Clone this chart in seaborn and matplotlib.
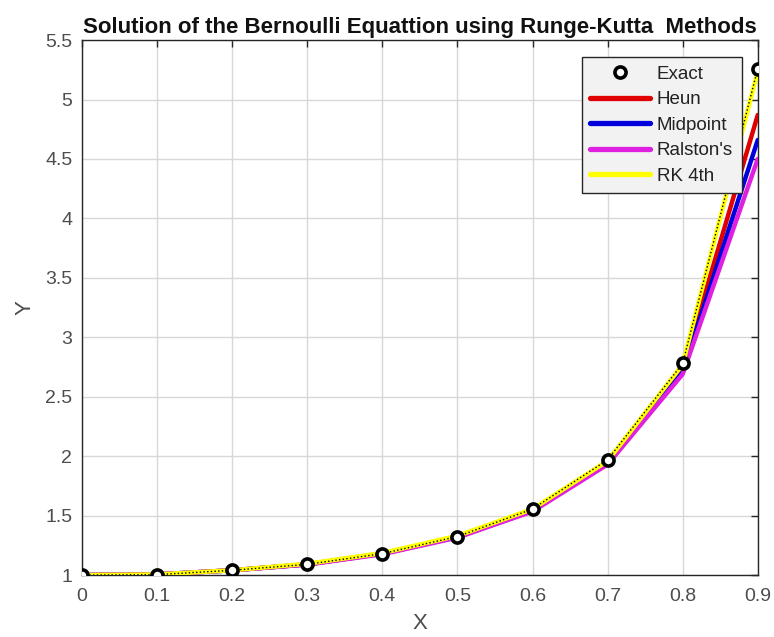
import numpy as np
import pandas as pd
import matplotlib
matplotlib.use("Agg")
import matplotlib.pyplot as plt
import matplotlib.ticker as mticker
import seaborn as sns

x = [0.0, 0.1, 0.2, 0.3, 0.4, 0.5, 0.6, 0.7, 0.8, 0.9]
exact = [1.0, 1.003, 1.04, 1.09, 1.18, 1.324, 1.555, 1.97, 2.78, 5.26]
heun = [1.0, 1.005, 1.04, 1.09, 1.18, 1.32, 1.54, 1.95, 2.73, 4.87]
midpoint = [1.0, 1.005, 1.04, 1.09, 1.18, 1.32, 1.54, 1.94, 2.71, 4.66]
ralston = [1.0, 1.005, 1.04, 1.088, 1.175, 1.315, 1.535, 1.93, 2.69, 4.50]
rk4 = [1.0, 1.005, 1.04, 1.095, 1.185, 1.33, 1.555, 1.96, 2.77, 5.24]

title = "Solution of the Bernoulli Equattion using Runge-Kutta  Methods"
xticks = [0, 0.1, 0.2, 0.3, 0.4, 0.5, 0.6, 0.7, 0.8, 0.9]
yticks = [1, 1.5, 2, 2.5, 3, 3.5, 4, 4.5, 5, 5.5]

sns.set_style("white")
plt.rcParams['font.family'] = ['Liberation Sans', 'DejaVu Sans']

fig = plt.figure(figsize=(7.74, 6.37), dpi=100)
ax = fig.add_axes([0.106, 0.0973, 0.873, 0.8397])

methods = [("Heun", heun, "#e00000"), ("Midpoint", midpoint, "#0000dd"),
           ("Ralston's", ralston, "#e020e0"), ("RK 4th", rk4, "#ffff00")]

df_e = pd.DataFrame({"x": x, "y": exact})
sns.lineplot(data=df_e, x="x", y="y", ax=ax, color="black", linestyle=":",
             linewidth=1.0, marker="o", markersize=8, markerfacecolor="white",
             markeredgecolor="black", markeredgewidth=2.6, label="Exact", zorder=5)
for name, vals, col in methods:
    d = pd.DataFrame({"x": x, "y": vals})
    sns.lineplot(data=d, x="x", y="y", ax=ax, color=col, linewidth=3.2,
                 label=name, zorder=3)

ax.set_xlim(0, 0.9)
ax.set_ylim(1, 5.5)
ax.set_xticks(xticks)
ax.set_yticks(yticks)
ax.xaxis.set_major_formatter(mticker.FormatStrFormatter('%g'))
ax.yaxis.set_major_formatter(mticker.FormatStrFormatter('%g'))
ax.grid(True, color="#d8d8d8", linewidth=1.0)
ax.set_axisbelow(True)
for s in ax.spines.values():
    s.set_color("#262626")
    s.set_linewidth(1.0)
ax.tick_params(direction="in", length=5, width=1, colors="#262626",
               labelcolor="#4d4d4d", labelsize=14, top=True, right=True,
               labeltop=False, labelright=False)
ax.tick_params(axis="x", pad=9)
ax.tick_params(axis="y", pad=7)

ax.set_xlabel("X", fontsize=16, color="#4d4d4d", labelpad=6)
ax.set_ylabel("Y", fontsize=16, color="#4d4d4d", labelpad=7)
ax.set_title(title, fontsize=16, fontweight="bold", color="#111111", pad=5)

leg = ax.legend(loc="upper right", bbox_to_anchor=(0.976, 0.968),
                borderaxespad=0, fontsize=13.5, frameon=True, fancybox=False,
                edgecolor="#262626", facecolor="#f2f2f2", framealpha=1,
                handlelength=3.2, handletextpad=0.35, labelspacing=0.45,
                borderpad=0.45)
leg.get_frame().set_linewidth(1.0)
for t in leg.get_texts():
    t.set_color("#222222")
for h in leg.legend_handles[1:]:
    h.set_linewidth(3.8)
leg.legend_handles[0].set_linestyle("None")

fig.savefig("out.png", dpi=100)
